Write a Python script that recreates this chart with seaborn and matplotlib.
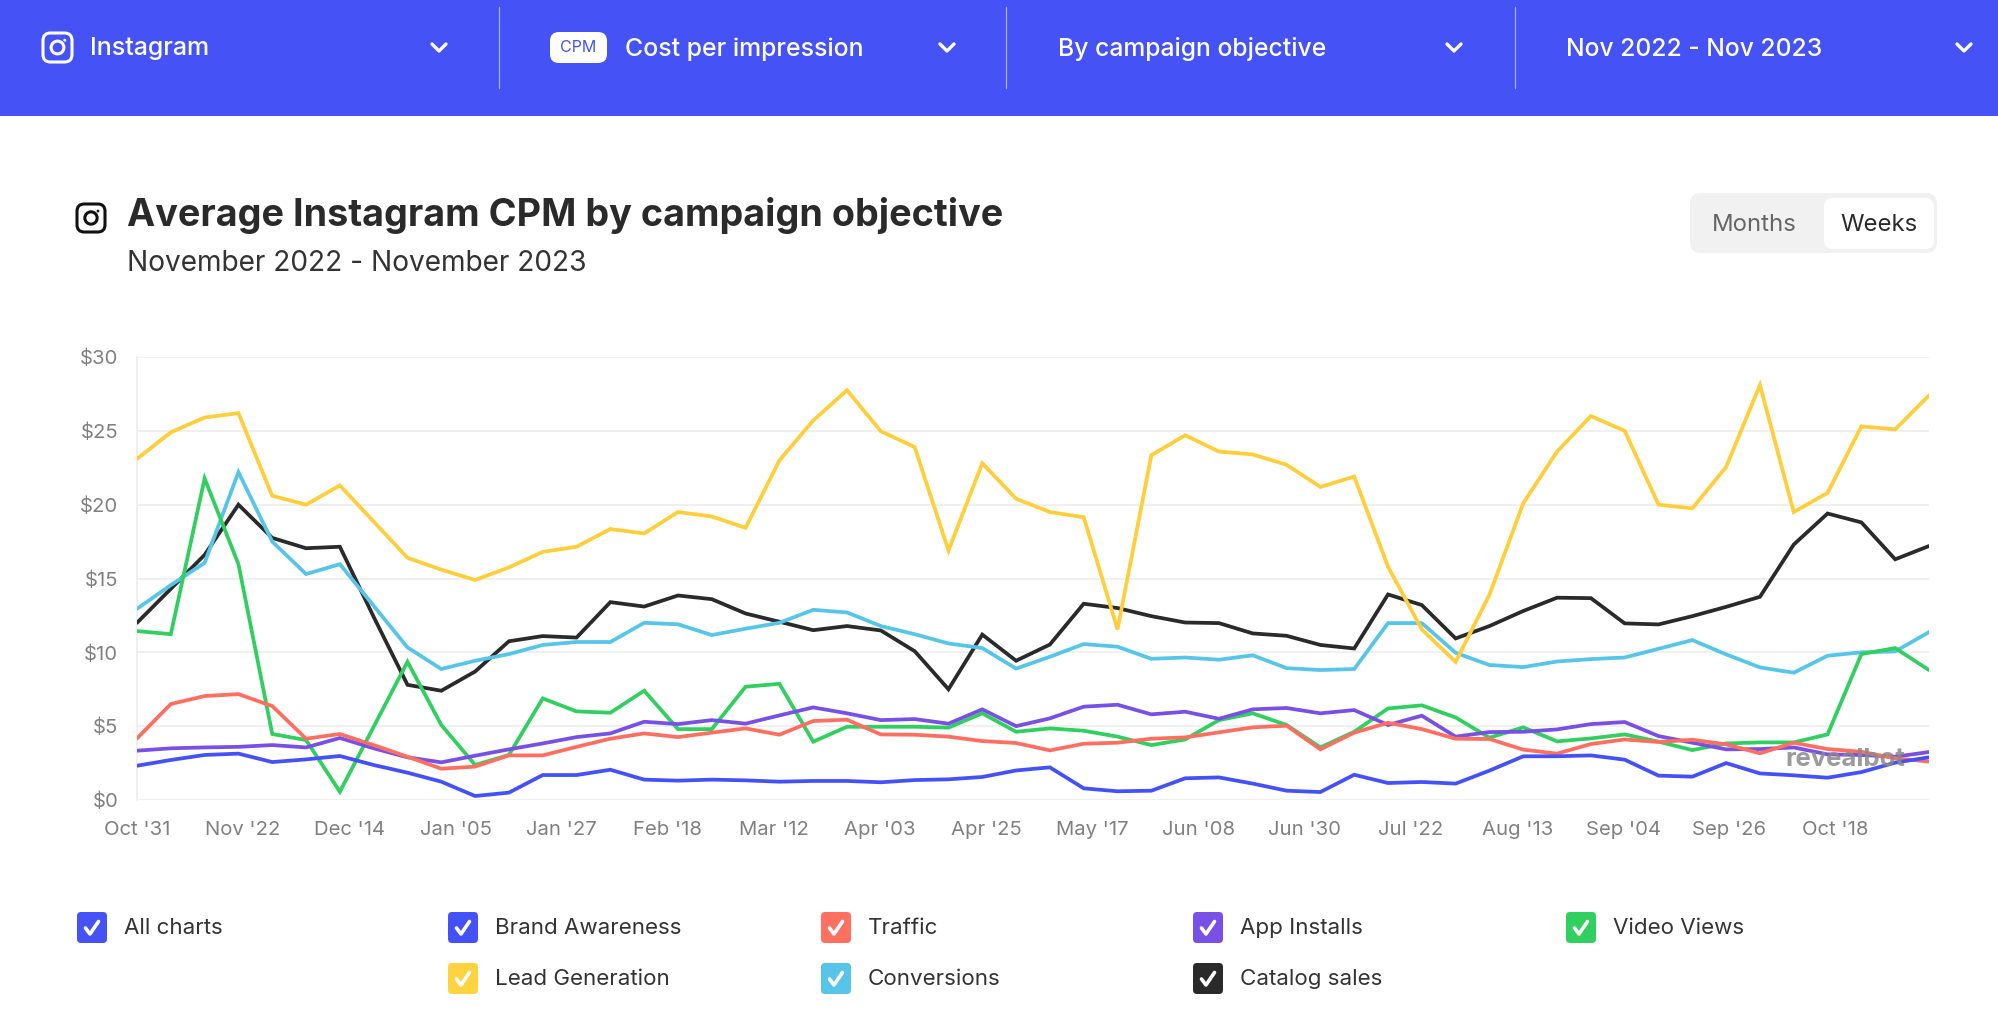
#!/usr/bin/env python3
"""Average Instagram CPM by campaign objective, redrawn with seaborn."""

import matplotlib.pyplot as plt
import numpy as np
import pandas as pd
import seaborn as sns
from matplotlib.patches import Circle, FancyBboxPatch

SERIES_NAMES = ["Brand Awareness", "Traffic", "App Installs", "Video Views",
                "Lead Generation", "Conversions", "Catalog sales"]

BRAND = [2.32, 2.71, 3.05, 3.14, 2.57, 2.75, 2.98, 2.37, 1.85, 1.24, 0.27, 0.5, 1.69, 1.69, 2.05, 1.38, 1.31, 1.38,
         1.33, 1.24, 1.29, 1.29, 1.2, 1.35, 1.4, 1.56, 2.0, 2.21, 0.79, 0.59, 0.63, 1.47, 1.53, 1.11, 0.63, 0.54,
         1.71, 1.15, 1.22, 1.11, 1.99, 2.96, 2.96, 3.02, 2.73, 1.65, 1.58, 2.5, 1.8, 1.67, 1.51, 1.89, 2.53, 2.89]
TRAFFIC = [4.17, 6.5, 7.04, 7.17, 6.36, 4.15, 4.47, 3.72, 2.93, 2.12, 2.26, 3.02, 3.02, 3.6, 4.15, 4.51, 4.26, 4.56,
           4.85, 4.42, 5.35, 5.44, 4.44, 4.42, 4.29, 3.99, 3.86, 3.36, 3.81, 3.88, 4.15, 4.24, 4.58, 4.92, 5.03, 3.43,
           4.56, 5.23, 4.8, 4.15, 4.13, 3.41, 3.14, 3.79, 4.1, 3.93, 4.08, 3.77, 3.16, 3.88, 3.45, 3.27, 2.82, 2.6]
APP_INSTALLS = [3.34, 3.5, 3.56, 3.6, 3.72, 3.56, 4.2, 3.5, 2.89, 2.55, 3.0, 3.43, 3.83, 4.26, 4.51, 5.3, 5.14, 5.41,
                5.17, 5.73, 6.27, 5.87, 5.41, 5.48, 5.17, 6.14, 5.0, 5.53, 6.32, 6.45, 5.8, 5.98, 5.5, 6.14, 6.23, 5.87,
                6.09, 5.08, 5.71, 4.29, 4.6, 4.62, 4.78, 5.14, 5.28, 4.33, 3.88, 3.43, 3.45, 3.56, 3.09, 3.05, 2.93, 3.25]
VIDEO_VIEWS = [11.44, 11.23, 21.77, 15.97, 4.47, 4.06, 0.56, 4.96, 9.36, 5.08, 2.37, 3.05, 6.88, 6.0, 5.91, 7.4, 4.8, 4.8,
               7.67, 7.87, 3.95, 4.96, 4.96, 4.96, 4.9, 5.87, 4.62, 4.85, 4.69, 4.29, 3.72, 4.1, 5.41, 5.87, 5.08, 3.56,
               4.62, 6.2, 6.41, 5.59, 4.22, 4.92, 3.97, 4.17, 4.44, 3.95, 3.38, 3.83, 3.9, 3.9, 4.44, 9.88, 10.29, 8.8]
LEAD_GEN = [23.1, 24.9, 25.9, 26.2, 20.6, 20.0, 21.3, 18.85, 16.4, 15.6, 14.9, 15.75, 16.8, 17.15, 18.35, 18.05, 19.5, 19.2,
            18.43, 23.0, 25.7, 27.75, 24.97, 23.9, 16.9, 22.8, 20.4, 19.5, 19.15, 11.55, 23.35, 24.7, 23.6, 23.4, 22.7, 21.2,
            21.9, 15.8, 11.55, 9.35, 13.9, 20.1, 23.6, 26.0, 25.0, 20.0, 19.75, 22.55, 28.1, 19.5, 20.8, 25.3, 25.1, 27.4]
CONVERSIONS = [12.95, 14.55, 16.06, 22.2, 17.5, 15.3, 15.97, 13.15, 10.33, 8.87, 9.43, 9.88, 10.5, 10.7, 10.7, 12.0, 11.9, 11.17,
               11.6, 12.0, 12.88, 12.7, 11.78, 11.23, 10.6, 10.29, 8.9, 9.7, 10.56, 10.38, 9.56, 9.65, 9.5, 9.8, 8.93, 8.8,
               8.87, 11.98, 11.98, 9.97, 9.14, 9.0, 9.38, 9.54, 9.65, 10.24, 10.83, 9.86, 8.98, 8.62, 9.77, 10.0, 10.06, 11.37]
CATALOG = [12.0, 14.3, 16.6, 20.0, 17.75, 17.05, 17.15, 12.4, 7.8, 7.4, 8.7, 10.75, 11.1, 11.0, 13.4, 13.1, 13.85, 13.6,
           12.63, 12.07, 11.5, 11.78, 11.48, 10.08, 7.5, 11.2, 9.43, 10.53, 13.29, 13.0, 12.45, 12.02, 11.98, 11.28, 11.12, 10.5,
           10.26, 13.92, 13.2, 10.94, 11.78, 12.8, 13.7, 13.67, 11.96, 11.89, 12.45, 13.08, 13.76, 17.3, 19.4, 18.8, 16.3, 17.2]

X_LABELS = ["Oct '31", "Nov '22", "Dec '14", "Jan '05", "Jan '27", "Feb '18", "Mar '12", "Apr '03", "Apr '25",
            "May '17", "Jun '08", "Jun '30", "Jul '22", "Aug '13", "Sep '04", "Sep '26", "Oct '18"]
Y_TICKS = [0, 5, 10, 15, 20, 25, 30]

COLORS = ["#4551F8", "#FF6F61", "#7950E5", "#30CF5F", "#FFCE3A", "#56C5E8", "#2A2A2A"]
LEGEND_COLORS = ["#4551F8", "#FF7061", "#7950E5", "#30CF5F", "#FFD23F", "#56C5E8", "#2A2A2A"]

W, H = 1999, 1021
HEADER = "#4552F5"
FONT = "Inter"


def build_frame() -> pd.DataFrame:
    values = [BRAND, TRAFFIC, APP_INSTALLS, VIDEO_VIEWS, LEAD_GEN, CONVERSIONS, CATALOG]
    frames = []
    for name, vals in zip(SERIES_NAMES, values):
        frames.append(pd.DataFrame({"week": range(len(vals)), "cpm": vals, "objective": name}))
    return pd.concat(frames, ignore_index=True)


def round_box(ax, x0, y0, x1, y1, r, color, **kw):
    box = FancyBboxPatch((x0 + r, y0 + r), x1 - x0 - 2 * r, y1 - y0 - 2 * r,
                         boxstyle=f"round,pad={r},rounding_size={r}", fc=color, ec="none", **kw)
    ax.add_patch(box)


def insta_icon(ax, x0, y0, size, color):
    r = size * 0.26
    box = FancyBboxPatch((x0 + r, y0 + r), size - 2 * r, size - 2 * r,
                         boxstyle=f"round,pad={r},rounding_size={r}", fc="none", ec=color, lw=2.2)
    ax.add_patch(box)
    cx, cy = x0 + size / 2, y0 + size / 2
    ax.add_patch(Circle((cx, cy), size * 0.22, fc="none", ec=color, lw=2.2))
    ax.add_patch(Circle((x0 + size * 0.75, y0 + size * 0.25), size * 0.05, fc=color, ec="none"))


def chevron(ax, cx, cy):
    ax.plot([cx - 7, cx, cx + 7], [cy - 3, cy + 4, cy - 3], color="white", lw=2.4,
            solid_capstyle="round", solid_joinstyle="round")


def checkbox(ax, x0, y0, color):
    round_box(ax, x0, y0, x0 + 30, y0 + 31, 4, color)
    ax.plot([x0 + 8.5, x0 + 13, x0 + 21.5], [y0 + 16, y0 + 22, y0 + 9.5], color="white", lw=2.6,
            solid_capstyle="round", solid_joinstyle="round")


def draw_chrome(fig) -> None:
    ax = fig.add_axes([0, 0, 1, 1], zorder=0)
    ax.set_xlim(0, W)
    ax.set_ylim(H, 0)
    ax.axis("off")

    ax.fill_between([0, W], 0, 116, color=HEADER, lw=0)
    for x in (499, 1006, 1515):
        ax.plot([x, x], [7, 88], color="#A9B0FA", lw=0.9)

    insta_icon(ax, 43, 33, 29, "white")
    ax.text(90, 49, "Instagram", color="white", fontsize=18, va="center", family=FONT, weight="medium")
    chevron(ax, 439, 47)

    round_box(ax, 550, 32, 607, 63, 9, "white")
    ax.text(578.5, 47.5, "CPM", color=HEADER, fontsize=11.5, ha="center", va="center", family=FONT)
    ax.text(625, 49, "Cost per impression", color="white", fontsize=17.9, va="center", family=FONT, weight="medium")
    chevron(ax, 947, 47)

    ax.text(1058, 49, "By campaign objective", color="white", fontsize=17.8, va="center", family=FONT, weight="medium")
    chevron(ax, 1454, 47)

    ax.text(1566, 49, "Nov 2022 - Nov 2023", color="white", fontsize=17.7, va="center", family=FONT, weight="medium")
    chevron(ax, 1964, 47)

    insta_icon(ax, 77, 204, 28, "#111111")
    ax.text(127, 215, "Average Instagram CPM by campaign objective", color="#2A2A2A", fontsize=27.2,
            va="center", family=FONT, weight="bold")
    ax.text(127, 263, "November 2022 - November 2023", color="#333333", fontsize=20.2, va="center", family=FONT)

    round_box(ax, 1690, 193, 1937, 253, 11, "#F1F1F1")
    round_box(ax, 1824, 198, 1934, 249, 9, "white")
    ax.text(1754, 225, "Months", color="#666666", fontsize=17.2, ha="center", va="center", family=FONT)
    ax.text(1879, 225, "Weeks", color="#2A2A2A", fontsize=17.2, ha="center", va="center", family=FONT)

    legend_rows = [
        (77, 912, "All charts", HEADER),
        (448, 912, SERIES_NAMES[0], LEGEND_COLORS[0]),
        (821, 912, SERIES_NAMES[1], LEGEND_COLORS[1]),
        (1193, 912, SERIES_NAMES[2], LEGEND_COLORS[2]),
        (1566, 912, SERIES_NAMES[3], LEGEND_COLORS[3]),
        (448, 963, SERIES_NAMES[4], LEGEND_COLORS[4]),
        (821, 963, SERIES_NAMES[5], LEGEND_COLORS[5]),
        (1193, 963, SERIES_NAMES[6], LEGEND_COLORS[6]),
    ]
    for x0, y0, label, color in legend_rows:
        checkbox(ax, x0, y0, color)
        ax.text(x0 + 47, y0 + 16, label, color="#333333", fontsize=16.1, va="center", family=FONT)


def draw_chart(fig) -> None:
    ax = fig.add_axes([137 / W, 1 - 800 / H, (1929 - 137) / W, (800 - 357) / H], zorder=1)
    ax.patch.set_alpha(0)

    df = build_frame()
    # first legend entry sits on top, like the original chart
    sns.lineplot(data=df, x="week", y="cpm", hue="objective",
                 hue_order=SERIES_NAMES[::-1],
                 palette=dict(zip(SERIES_NAMES, COLORS)),
                 linewidth=2.7, legend=False, ax=ax, zorder=3, solid_joinstyle="miter")

    ax.set_xlim(0, len(BRAND) - 1)
    ax.set_ylim(0, 30)
    ax.set_xlabel("")
    ax.set_ylabel("")

    tick_step = 3.14
    ax.set_xticks(np.arange(len(X_LABELS)) * tick_step)
    ax.set_xticklabels(X_LABELS)
    ax.set_yticks(Y_TICKS)
    ax.set_yticklabels([f"${v}" for v in Y_TICKS])
    ax.tick_params(axis="x", length=0, pad=15, labelsize=14.6, labelcolor="#808080")
    ax.tick_params(axis="y", length=9.4, width=1.1, color="#ECECEC", pad=4, labelsize=14.6, labelcolor="#808080")
    ax.grid(axis="y", color="#ECECEC", lw=1.1, zorder=0)
    ax.set_axisbelow(True)
    for side in ("top", "right", "bottom"):
        ax.spines[side].set_visible(False)
    ax.spines["left"].set_color("#ECECEC")
    ax.spines["left"].set_linewidth(1.1)

    ax.text(0.9866, 0.0925, "revealbot", transform=ax.transAxes, ha="right", va="center",
            color="#8A8A8A", alpha=0.85, fontsize=18.5, weight="bold", family=FONT, zorder=5)


def main() -> None:
    sns.set_theme(style="white")
    plt.rcParams["font.family"] = [FONT, "DejaVu Sans"]
    fig = plt.figure(figsize=(W / 100, H / 100), dpi=100, facecolor="white")
    draw_chrome(fig)
    draw_chart(fig)
    fig.savefig("out.png", dpi=100, facecolor="white")
    plt.close(fig)


if __name__ == "__main__":
    main()
